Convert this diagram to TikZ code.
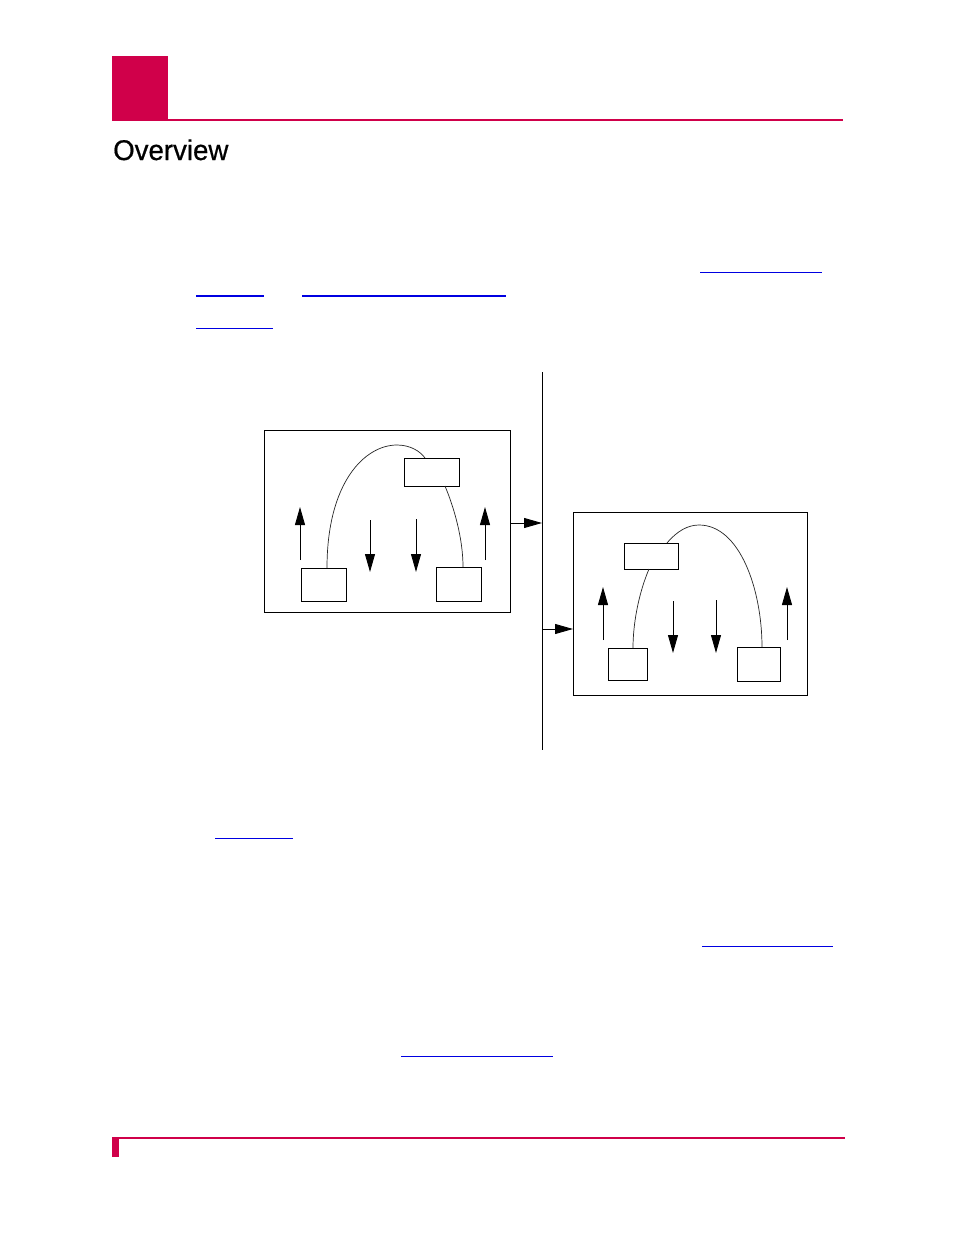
\documentclass[tikz,border=0pt]{standalone}
\usepackage{fontspec}
\setmainfont{Liberation Sans}
\newfontfamily\titlefont[FakeBold=0.6]{Liberation Sans}
\usetikzlibrary{arrows.meta}
\definecolor{brand}{RGB}{208,0,74}
\definecolor{linkblue}{RGB}{0,0,225}
\tikzset{
  box/.style={draw=black, line width=1pt, fill=white, inner sep=0pt, anchor=north west},
  flow/.style={line width=0.9pt, -{Triangle[length=18pt,width=10pt]}},
  link/.style={draw=linkblue, line width=1.4pt},
  arc/.style={line width=0.7pt, draw=black!85}
}
\newcommand{\boxat}[5]{\node[box, minimum width=#4pt, minimum height=#5pt] (#1) at (#2,#3) {};}
\begin{document}
\begin{tikzpicture}[x=1pt,y=-1pt]
\useasboundingbox (0,0) rectangle (954,1235);
% header
\fill[brand] (112,56) rectangle (168,121);
\fill[brand] (112,119) rectangle (843,121);
\node[anchor=base west, inner sep=0pt, font=\titlefont\fontsize{28.5}{31}\selectfont, xscale=0.97] (title) at (113,160) {Overview};
% link underlines
\draw[link, line width=1pt] (700,272) -- (822,272);
\draw[link, line width=2pt] (196,296) -- (264,296);
\draw[link, line width=2pt] (302,296) -- (506,296);
\draw[link, line width=1pt] (196,328) -- (273,328);
\draw[link, line width=1pt] (215,838) -- (293,838);
\draw[link, line width=1pt] (702,946) -- (833,946);
\draw[link, line width=1pt] (401,1056) -- (553,1056);
% footer
\fill[brand] (112,1137) rectangle (845,1139);
\fill[brand] (112,1137) rectangle (119,1157);
% central bus
\coordinate (busTop) at (542,372);
\coordinate (busBot) at (542,750);
\draw[line width=1pt] (busTop) -- (busBot);
% left system
\boxat{L}{264}{430}{246}{182}
\boxat{Ltop}{404}{458}{55}{28}
\boxat{Lbl}{301}{568}{45}{33}
\boxat{Lbr}{436}{567}{45}{34}
\draw[arc] (327,568) .. controls (327,482) and (365,445) .. (397,445) .. controls (410,445) and (420,451) .. (425,458);
\draw[arc] (445,486) .. controls (455,510) and (463,540) .. (463,567);
\coordinate (La1s) at (300,560); \coordinate (La1e) at (300,507);
\coordinate (La2s) at (370,520); \coordinate (La2e) at (370,572);
\coordinate (La3s) at (416,519); \coordinate (La3e) at (416,572);
\coordinate (La4s) at (485,560); \coordinate (La4e) at (485,507);
\draw[flow] (La1s) -- (La1e);
\draw[flow] (La2s) -- (La2e);
\draw[flow] (La3s) -- (La3e);
\draw[flow] (La4s) -- (La4e);
\coordinate (Lout) at (542,523);
\draw[flow] (L.east |- Lout) -- (Lout);
% right system
\boxat{R}{573}{512}{234}{183}
\boxat{Rtop}{624}{543}{54}{26}
\boxat{Rbl}{608}{648}{39}{32}
\boxat{Rbr}{737}{647}{43}{34}
\draw[arc] (667,543) .. controls (677,531) and (688,525) .. (699,525) .. controls (740,525) and (762,590) .. (762,647);
\draw[arc] (649,569) .. controls (638,595) and (633,625) .. (633,648);
\coordinate (Ra1s) at (603,640); \coordinate (Ra1e) at (603,587);
\coordinate (Ra2s) at (673,601); \coordinate (Ra2e) at (673,653);
\coordinate (Ra3s) at (716,600); \coordinate (Ra3e) at (716,653);
\coordinate (Ra4s) at (787,640); \coordinate (Ra4e) at (787,587);
\draw[flow] (Ra1s) -- (Ra1e);
\draw[flow] (Ra2s) -- (Ra2e);
\draw[flow] (Ra3s) -- (Ra3e);
\draw[flow] (Ra4s) -- (Ra4e);
\coordinate (Rin) at (542,629);
\draw[flow] (Rin) -- (R.west |- Rin);
\end{tikzpicture}
\end{document}
